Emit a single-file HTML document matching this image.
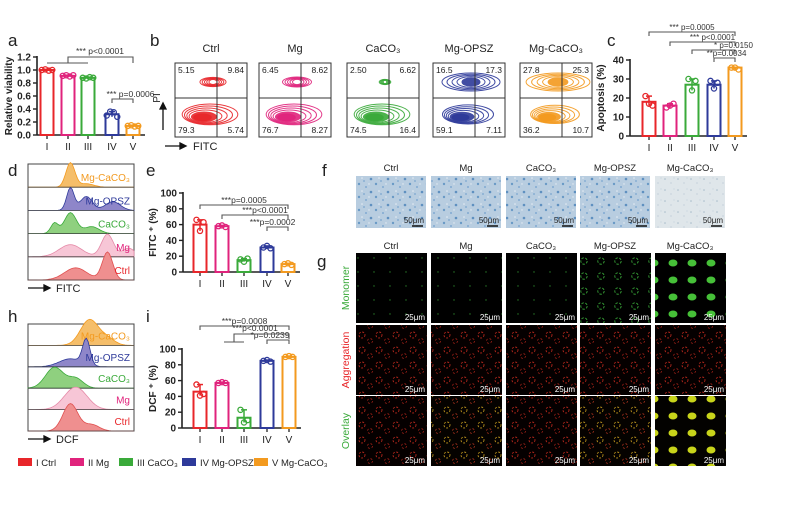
<!DOCTYPE html>
<html><head><meta charset="utf-8">
<style>
html,body{margin:0;padding:0;background:#fff;}
svg{display:block;font-family:"Liberation Sans",Arial,sans-serif;}
</style></head>
<body>
<svg id="fig" width="804" height="506" viewBox="0 0 804 506" xmlns="http://www.w3.org/2000/svg">
<defs>
<pattern id="blueTex" width="17" height="13" patternUnits="userSpaceOnUse">
<rect width="17" height="13" fill="#b8cde0"/><circle cx="2" cy="2" r="1.2" fill="#6a9ac6"/><circle cx="9" cy="5" r="1" fill="#80aad2"/><circle cx="14" cy="10" r="1.3" fill="#5f90c0"/><circle cx="5" cy="9" r="0.8" fill="#e6edf3"/><circle cx="12" cy="2" r="0.7" fill="#e6edf3"/><circle cx="7" cy="12" r="0.9" fill="#7aa6cf"/>
</pattern>
<pattern id="paleTex" width="13" height="11" patternUnits="userSpaceOnUse">
<rect width="13" height="11" fill="#dfe6ea"/><circle cx="2" cy="3" r="0.8" fill="#a9bccb"/><circle cx="8" cy="7" r="0.6" fill="#b5c6d2"/><circle cx="11" cy="2" r="0.5" fill="#b5c6d2"/>
</pattern>
<pattern id="redTex" width="17" height="15" patternUnits="userSpaceOnUse">
<rect width="17" height="15" fill="#050000"/><circle cx="5" cy="5" r="3" fill="none" stroke="#b3261b" stroke-width="0.9" stroke-dasharray="2 1.5"/><circle cx="13" cy="11" r="2.5" fill="none" stroke="#a02016" stroke-width="0.8" stroke-dasharray="2 2"/>
</pattern>
<pattern id="greenTex" width="16" height="14" patternUnits="userSpaceOnUse">
<rect width="16" height="14" fill="#000"/><circle cx="6" cy="6" r="0.7" fill="#287a28"/>
</pattern>
<pattern id="greenTex2" width="17" height="15" patternUnits="userSpaceOnUse">
<rect width="17" height="15" fill="#000"/><circle cx="6" cy="6" r="3.2" fill="none" stroke="#35a035" stroke-width="0.9" stroke-dasharray="2.5 1.5"/>
</pattern>
<pattern id="greenTex3" width="19" height="17" patternUnits="userSpaceOnUse">
<rect width="19" height="17" fill="#000"/><ellipse cx="8" cy="8" rx="4.5" ry="3.5" fill="#46c038"/>
</pattern>
<pattern id="yelTex" width="17" height="15" patternUnits="userSpaceOnUse">
<rect width="17" height="15" fill="#050200"/><circle cx="5" cy="5" r="3" fill="none" stroke="#b8901c" stroke-width="0.9" stroke-dasharray="2 1.5"/><circle cx="13" cy="11" r="2.5" fill="none" stroke="#a8301c" stroke-width="0.8" stroke-dasharray="2 2"/>
</pattern>
<pattern id="yelTex2" width="19" height="17" patternUnits="userSpaceOnUse">
<rect width="19" height="17" fill="#030200"/><ellipse cx="8" cy="8" rx="4.5" ry="3.5" fill="#c8d41a"/>
</pattern>
</defs>
<g id="root"></g>
</svg>
<script>
// ---- data ----
const groups = ["I","II","III","IV","V"];
const colors = ["#e8262a","#e0237c","#3aaa3a","#2e3a9a","#f39a1f"];
const viabilityVals = [1.0,0.91,0.88,0.32,0.14];
const viabilityPts = [[1.0,1.01,0.99,1.0],[0.91,0.92,0.9,0.92],[0.88,0.87,0.89,0.88],[0.3,0.36,0.35,0.28],[0.14,0.15,0.13,0.14]];
const viabilityTicks = [0,0.2,0.4,0.6,0.8,1.0,1.2];
const apoptosisVals = [18,16,27,27,36];
const apoptosisPts = [[21,17,16],[15,16,17],[30,24,29],[29,25,28],[36,36,35]];
const apoptosisTicks = [0,10,20,30,40];
const fitcVals = [60,58,15,31,10];
const fitcPts = [[66,52,63],[58,59,57],[16,13,17],[31,33,30],[10,11,9]];
const pctTicks = [0,20,40,60,80,100];
const dcfVals = [46,57,13,85,90];
const dcfPts = [[55,41,43],[57,58,57],[23,7,10],[85,86,84],[90,91,90]];
const flowNames = ["Ctrl","Mg","CaCO₃","Mg-OPSZ","Mg-CaCO₃"];
const flowQuad = [["5.15","9.84","79.3","5.74"],["6.45","8.62","76.7","8.27"],["2.50","6.62","74.5","16.4"],["16.5","17.3","59.1","7.11"],["27.8","25.3","36.2","10.7"]];

const NS="http://www.w3.org/2000/svg";
const root=document.getElementById('root');
function el(tag,attrs,parent,text){const e=document.createElementNS(NS,tag);for(const k in attrs)e.setAttribute(k,attrs[k]);if(text!==undefined)e.textContent=text;(parent||root).appendChild(e);return e;}
function txt(x,y,s,size,opts,parent){opts=opts||{};const t=el('text',Object.assign({x:x,y:y,'font-size':size,fill:'#222'},opts),parent,s);return t;}

// panel letters
[["a",8,46],["b",150,46],["c",607,46],["d",8,176],["e",146,176],["f",322,176],["g",317,267],["h",8,322],["i",146,322]].forEach(p=>{
 const t=txt(p[1],p[2],p[0],17,{});
 
 
});

function barChart(name,cfg){
 const g=el('g',{});
 
 
 const yS=v=>cfg.y0-(v-cfg.min)/(cfg.max-cfg.min)*(cfg.y0-cfg.yTop);
 const xEnd=cfg.centers[4]+12;
 el('line',{x1:cfg.ax,y1:cfg.yTop-1,x2:cfg.ax,y2:cfg.y0,stroke:'#222','stroke-width':1.6},g);
 el('line',{x1:cfg.ax,y1:cfg.y0,x2:xEnd,y2:cfg.y0,stroke:'#222','stroke-width':1.6},g);
 cfg.ticks.forEach(tv=>{
  const y=yS(tv);
  el('line',{x1:cfg.ax-4,y1:y,x2:cfg.ax,y2:y,stroke:'#222','stroke-width':1.4},g);
  const t=txt(cfg.ax-6,y+3.5,cfg.fmt(tv),10,{'text-anchor':'end','font-weight':'bold'},g);
  
  
 });
 groups.forEach((gr,i)=>{
  const cx=cfg.centers[i];
  el('line',{x1:cx,y1:cfg.y0,x2:cx,y2:cfg.y0+4,stroke:'#222','stroke-width':1.3},g);
  const t=txt(cx,cfg.y0+15,gr,10,{'text-anchor':'middle'},g);
  
  
  const v=cfg.vals[i],top=yS(v);
  const b=el('rect',{x:cx-6.5,y:top,width:13,height:cfg.y0-top,fill:'#fff',stroke:colors[i],'stroke-width':2},g);
  
  
  const pts=cfg.pts[i];
  const mx=Math.max(...pts),mn=Math.min(...pts);
  el('line',{x1:cx,y1:yS(mx),x2:cx,y2:yS(mn),stroke:colors[i],'stroke-width':1.5},g);
  el('line',{x1:cx-3,y1:yS(mx),x2:cx+3,y2:yS(mx),stroke:colors[i],'stroke-width':1.5},g);
  pts.forEach((p,j)=>{
   const c=el('circle',{cx:cx+(j-(pts.length-1)/2)*3.5,cy:yS(p),r:2.6,fill:'none',stroke:colors[i],'stroke-width':1.3},g);
   
   
  });
 });
 const yl=txt(0,0,cfg.ylabel,10,{'font-weight':'bold','text-anchor':'middle',transform:`translate(${cfg.ylx},${(cfg.y0+cfg.yTop)/2}) rotate(-90)`},g);
 
 
 (cfg.brackets||[]).forEach(br=>{
  const x1=cfg.centers[br[0]],x2=cfg.centers[br[1]],y=br[2];
  el('path',{d:`M${x1} ${y+4}V${y}H${x2}V${y+4}`,fill:'none',stroke:'#555','stroke-width':1.1},g);
  const t=txt((x1+x2)/2+(br[4]||0),y-2,br[3],br[5]||8.5,{'text-anchor':'middle',fill:'#333'},g);
  
  
 });
 return g;
}

// panel a
const ga=barChart('viability-chart',{ax:37,y0:135,yTop:57,min:0,max:1.2,ticks:viabilityTicks,fmt:v=>v.toFixed(1),centers:[47,68,88,112,133],vals:viabilityVals,pts:viabilityPts,ylabel:'Relative viability',ylx:12,
 brackets:[[3,4,99,'*** p=0.0006',8]]});
el('path',{d:'M47 63H88 M68 63V57H133V63',fill:'none',stroke:'#555','stroke-width':1.1},ga);
txt(100,54,'*** p<0.0001',8.5,{'text-anchor':'middle',fill:'#333'},ga);

// panel c
barChart('apoptosis-chart',{ax:630,y0:136,yTop:60,min:0,max:40,ticks:apoptosisTicks,fmt:v=>String(v),centers:[649,670,692,714,735],vals:apoptosisVals,pts:apoptosisPts,ylabel:'Apoptosis (%)',ylx:604,
 brackets:[[0,4,32,'*** p=0.0005',0,8],[1,4,42,'*** p<0.0001',10,8],[2,4,50,'* p=0.0150',20,8],[3,4,58,'**p=0.0034',2,8]]});

// panel e
barChart('fitc-chart',{ax:183,y0:272,yTop:193,min:0,max:100,ticks:pctTicks,fmt:v=>String(v),centers:[200,222,244,267,288],vals:fitcVals,pts:fitcPts,ylabel:'FITC ⁺ (%)',ylx:156,
 brackets:[[0,4,205,'***p=0.0005'],[1,4,215,'***p<0.0001',10],[3,4,227,'***p=0.0002',-5]]});

// panel i
const gi=barChart('dcf-chart',{ax:182,y0:428,yTop:349,min:0,max:100,ticks:pctTicks,fmt:v=>String(v),centers:[200,222,244,267,289],vals:dcfVals,pts:dcfPts,ylabel:'DCF ⁺ (%)',ylx:156,
 brackets:[[0,4,326,'***p=0.0008'],[3,4,340,'*p=0.0239',-8]]});
el('path',{d:'M224 342H244 M234 342V334H289V339',fill:'none',stroke:'#555','stroke-width':1.1},gi);
txt(255,331,'***p<0.0001',8.5,{'text-anchor':'middle',fill:'#333'},gi);

// panel b flow plots
const flowX=[175,259,347,433,520];
flowNames.forEach((n,i)=>{
 const g=el('g',{});
 
 
 const x=flowX[i],y=63,w=72,h=74,c=colors[i];
 txt(x+w/2,52,n,11,{'text-anchor':'middle'},g);
 el('rect',{x:x,y:y,width:w,height:h,fill:'#fff',stroke:'#333','stroke-width':1},g);
 const vx=x+42,hy=y+35;
 const up=[0.45,0.5,0.2,1,1.1][i], lo=[1,1,1,0.9,0.85][i];
 for(let k=6;k>0;k--){
  el('ellipse',{cx:x+26+k*1.5,cy:y+55-k*0.6,rx:5+k*3.8*lo,ry:2+k*1.4*lo,fill:k<3?c:'none',stroke:c,'stroke-width':1,opacity:0.9},g);
 }
 for(let k=5;k>0;k--){
  el('ellipse',{cx:x+38,cy:y+19,rx:(4+k*5)*up,ry:(2+k*1.2)*Math.min(up,1)+1,fill:k<2&&up>0.9?c:'none',stroke:c,'stroke-width':1,opacity:0.9},g);
 }
 el('line',{x1:vx,y1:y,x2:vx,y2:y+h,stroke:'#333','stroke-width':1},g);
 el('line',{x1:x,y1:hy,x2:x+w,y2:hy,stroke:'#333','stroke-width':1},g);
 const q=flowQuad[i];
 txt(x+3,y+10,q[0],8.5,{},g);txt(x+w-3,y+10,q[1],8.5,{'text-anchor':'end'},g);
 txt(x+3,y+h-4,q[2],8.5,{},g);txt(x+w-3,y+h-4,q[3],8.5,{'text-anchor':'end'},g);
});
el('path',{d:'M163 130V105 M160 109L163 103L166 109Z',stroke:'#111','stroke-width':1.3,fill:'#111'});
txt(0,0,'PI',10,{transform:'translate(160,98) rotate(-90)','text-anchor':'middle'});
el('path',{d:'M165 146H182 M180 143L186 146L180 149Z',stroke:'#111','stroke-width':1.3,fill:'#111'});
txt(193,150,'FITC',11,{});

// histograms d and h
function hist(name,x,y,w,h,peaks,labels,axisLabel){
 const g=el('g',{});
 
 
 el('rect',{x:x,y:y,width:w,height:h,fill:'#fff',stroke:'#444','stroke-width':1},g);
 const rows=5,rh=h/rows;
 const fills=["#f5be6a","#8e86c9","#8fd07f","#f7c6d6","#ef8f8f"];
 const strokes=["#f39a1f","#2e3a9a","#3aaa3a","#e58aa8","#e05050"];
 const tcol=["#f39a1f","#2e3a9a","#3aaa3a","#e0237c","#e8262a"];
 for(let r=0;r<rows;r++){
  const base=y+rh*(r+1);
  let d=`M${x} ${base}`;
  for(let s=0;s<=60;s++){
   const px=x+w*s/60;let v=0;
   peaks[r].forEach(p=>{v+=p[1]*Math.exp(-Math.pow((s/60-p[0])/p[2],2));});
   d+=`L${px.toFixed(1)} ${(base-Math.min(v,1.9)*rh*0.75).toFixed(1)}`;
  }
  d+=`L${x+w} ${base}Z`;
  el('path',{d:d,fill:fills[r],stroke:strokes[r],'stroke-width':0.8},g);
  el('line',{x1:x,y1:base,x2:x+w,y2:base,stroke:'#444','stroke-width':0.8},g);
  const t=txt(x+w-4,base-6,labels[r],10,{'text-anchor':'end',fill:tcol[r]},g);
  
  
 }
 el('path',{d:`M${x} ${y+h+8}H${x+18} M${x+16} ${y+h+5}L${x+22} ${y+h+8}L${x+16} ${y+h+11}Z`,stroke:'#111','stroke-width':1.3,fill:'#111'},g);
 txt(x+28,y+h+12,axisLabel,11,{},g);
}
const labs=["Mg-CaCO₃","Mg-OPSZ","CaCO₃","Mg","Ctrl"];
hist('fitc-histogram',28,164,106,116,[
 [[0.4,1.4,0.06],[0.55,0.2,0.1]],
 [[0.4,1.3,0.05],[0.55,0.8,0.08],[0.8,0.5,0.1]],
 [[0.4,1.2,0.08],[0.25,0.6,0.05],[0.6,0.4,0.1]],
 [[0.75,1.3,0.08],[0.4,0.7,0.15],[0.95,0.5,0.08]],
 [[0.75,1.6,0.07],[0.45,0.7,0.15]]],labs,'FITC');
hist('dcf-histogram',28,324,106,107,[
 [[0.58,1.6,0.12],[0.75,0.4,0.1]],
 [[0.55,1.6,0.05],[0.4,0.5,0.15]],
 [[0.25,1.3,0.12],[0.45,0.6,0.1]],
 [[0.45,1.4,0.15]],
 [[0.4,1.7,0.1],[0.6,0.4,0.1]]],labs,'DCF');

// panel f
const imgX=[356,431,506,580,655];
flowNames.forEach((n,i)=>{
 const g=el('g',{});
 
 
 txt(imgX[i]+35,171,n,9.5,{'text-anchor':'middle'},g);
 el('rect',{x:imgX[i],y:176,width:70,height:52,fill:i==4?'url(#paleTex)':'url(#blueTex)'},g);
 txt(imgX[i]+68,223,'50μm',8,{'text-anchor':'end',fill:'#222'},g);
 el('line',{x1:imgX[i]+56,y1:226,x2:imgX[i]+67,y2:226,stroke:'#111','stroke-width':1.5},g);
});

// panel g
const rowsY=[253,325,396];
const rowNames=["Monomer","Aggregation","Overlay"];
const rowCol=["#3aaa3a","#e8262a","#3aaa3a"];
const texG=['url(#greenTex)','url(#greenTex)','url(#greenTex)','url(#greenTex2)','url(#greenTex3)'];
const texY=['url(#redTex)','url(#yelTex)','url(#redTex)','url(#yelTex)','url(#yelTex2)'];
flowNames.forEach((n,i)=>{txt(imgX[i]+35,249,n,9.5,{'text-anchor':'middle'});});
rowNames.forEach((rn,r)=>{
 const t=txt(0,0,rn,10.5,{fill:rowCol[r],'text-anchor':'middle',transform:`translate(349,${rowsY[r]+35}) rotate(-90)`});
 
 
 for(let i=0;i<5;i++){
  const g=el('g',{});
  
  
  const fill=r==0?texG[i]:(r==1?'url(#redTex)':texY[i]);
  el('rect',{x:imgX[i],y:rowsY[r],width:71,height:70,fill:fill},g);
  txt(imgX[i]+69,rowsY[r]+67,'25μm',8,{'text-anchor':'end',fill:'#fff'},g);
 }
});

// legend
const legNames=["I Ctrl","II Mg","III CaCO₃","IV Mg-OPSZ","V Mg-CaCO₃"];
const legX=[18,70,119,182,254];
legNames.forEach((n,i)=>{
 const g=el('g',{});
 
 
 el('rect',{x:legX[i],y:458,width:14,height:8,fill:colors[i]},g);
 txt(legX[i]+18,466,n,9.5,{},g);
});
</script>
</body></html>
